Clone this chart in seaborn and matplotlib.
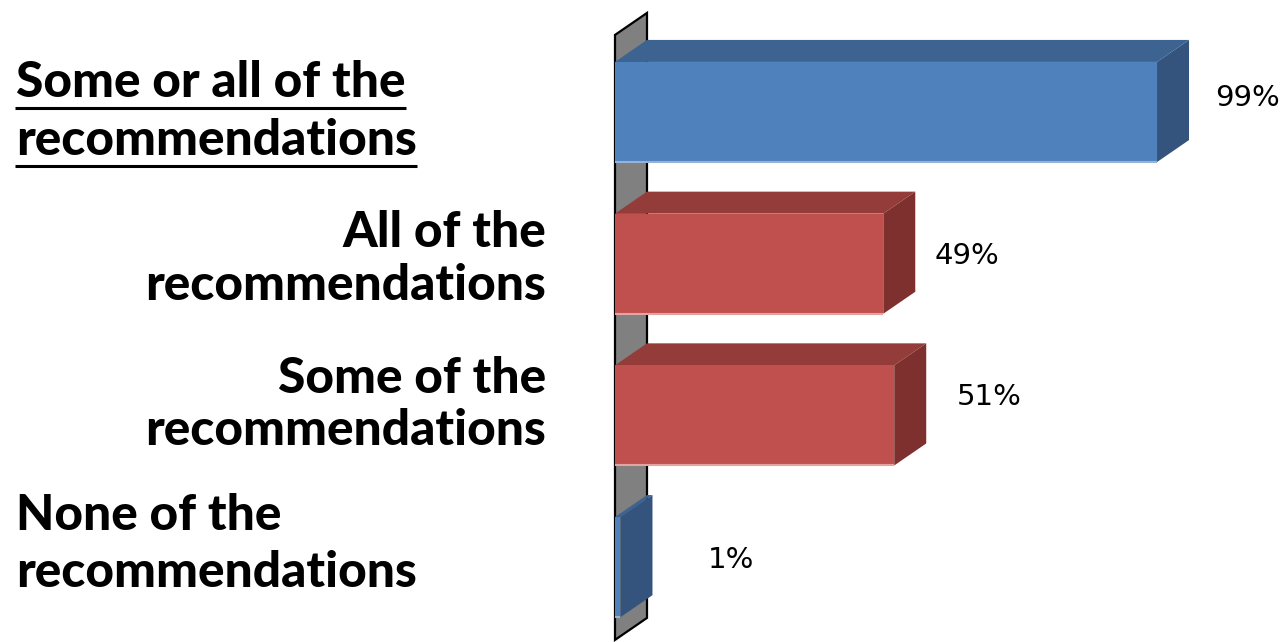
import matplotlib
matplotlib.use("Agg")
import matplotlib.pyplot as plt
import matplotlib.transforms as mtransforms
from matplotlib.patches import Polygon
from matplotlib.lines import Line2D
import pandas as pd
import seaborn as sns

# ---- data -------------------------------------------------------------
categories = [
    "Some or all of the\nrecommendations",
    "All of the\nrecommendations",
    "Some of the\nrecommendations",
    "None of the\nrecommendations",
]
percentages = [99, 49, 51, 1]
groups = ["total", "split", "split", "total"]

# ---- style ------------------------------------------------------------
FRONT = {"total": "#4F81BD", "split": "#C0504D"}
TOP = {"total": "#3D6390", "split": "#943C3A"}
SIDE = {"total": "#34547E", "split": "#7D302E"}
EDGE = {"total": "#95B3D7", "split": "#E3A3A1"}

W, H, DPI = 1280, 642, 100
PX_PER_UNIT = 5.475      # horizontal pixels per percent
PX_PER_CAT = 151.7       # vertical pixels per category slot
X0_PX = 615              # pixel column of the value axis origin
FIRST_CENTER_PX = 112    # pixel row of the first bar centre
XMAX = 120
Y_BOTTOM = 3.45

DX = 32 / PX_PER_UNIT    # 3-D depth, horizontal (data units)
DY = 22 / PX_PER_CAT     # 3-D depth, vertical (category units)

# category label layout: alignment, baseline offsets of each line, underline
label_align = ["left", "right", "right", "left"]
label_offsets = [(-0.099, 0.283), (-0.110, 0.239), (-0.148, 0.195), (-0.245, 0.131)]
label_underline = [True, False, False, False]
LEFT_X_PX, RIGHT_X_PX = 16, 546
LABEL_WEIGHT = 900

# value label offsets (data units from the bar end / category centre)
value_offsets = [(10.6, -0.089), (9.45, -0.051), (11.47, -0.121), (16.0, -0.047)]

sns.set_theme(style="white")
plt.rcParams["font.family"] = ["DejaVu Sans"]

fig = plt.figure(figsize=(W / DPI, H / DPI), dpi=DPI)
top_px = FIRST_CENTER_PX - 0.5 * PX_PER_CAT
bottom_px = FIRST_CENTER_PX + Y_BOTTOM * PX_PER_CAT
ax = fig.add_axes([X0_PX / W, 1 - bottom_px / H,
                   XMAX * PX_PER_UNIT / W, (bottom_px - top_px) / H])

df = pd.DataFrame({"category": categories, "pct": percentages, "group": groups})
sns.barplot(data=df, x="pct", y="category", hue="category",
            palette=[FRONT[g] for g in groups], orient="h", width=0.66,
            saturation=1, legend=False, ax=ax, zorder=3)
ax.set_xlim(0, XMAX)
ax.set_ylim(Y_BOTTOM, -0.5)
ax.set_axis_off()

# grey side wall behind the bars
wall_top, wall_bot = -0.508, 3.48
ax.add_patch(Polygon([(0, wall_top), (DX, wall_top - DY), (DX, wall_bot - DY), (0, wall_bot)],
                     closed=True, facecolor="#808080", edgecolor="black",
                     linewidth=1.6, zorder=0.5, clip_on=False))

# top and side faces for every bar
for bar in ax.patches:
    if not hasattr(bar, "get_width") or bar.get_width() <= 0:
        continue
    w, y, h = bar.get_width(), bar.get_y(), bar.get_height()
    idx = int(round(y + h / 2))
    if idx < 0 or idx >= len(groups):
        continue
    g = groups[idx]
    bar.set_edgecolor("none")
    ax.add_patch(Polygon([(0, y), (DX, y - DY), (w + DX, y - DY), (w, y)],
                         closed=True, facecolor=TOP[g], edgecolor="none", zorder=2))
    ax.add_patch(Polygon([(w, y), (w + DX, y - DY), (w + DX, y + h - DY), (w, y + h)],
                         closed=True, facecolor=SIDE[g], edgecolor="none", zorder=2))
    ax.plot([0, w], [y + h, y + h], color=EDGE[g], lw=1.5, zorder=3.5,
            solid_capstyle="butt")

# value labels
for i, v in enumerate(percentages):
    ox, oy = value_offsets[i]
    ax.text(v + ox, i + oy, f"{v}%", ha="left", va="center",
            fontsize=21, color="black", family=["DejaVu Sans"], clip_on=False)

# category labels, sized so the long word spans about 400 px
fig.canvas.draw()
renderer = fig.canvas.get_renderer()
probe = fig.text(0, 0, "recommendations", fontsize=30, fontweight=LABEL_WEIGHT, family=["Lato"])
pw = probe.get_window_extent(renderer).width
probe.remove()
label_size = 30 * 400 / pw

blend = mtransforms.blended_transform_factory(fig.transFigure, ax.transData)
for i, cat in enumerate(categories):
    ha = label_align[i]
    x = (LEFT_X_PX if ha == "left" else RIGHT_X_PX) / W
    for line, off in zip(cat.split("\n"), label_offsets[i]):
        t = fig.text(x, i + off, line, transform=blend, ha=ha, va="baseline",
                     fontsize=label_size, fontweight=LABEL_WEIGHT, family=["Lato"],
                     color="black")
        if label_underline[i]:
            fig.canvas.draw()
            bb = t.get_window_extent(renderer)
            base_y = ax.transData.transform((0, i + off))[1]
            uy = (base_y - 11) / H
            fig.add_artist(Line2D([bb.x0 / W - 1 / W, bb.x1 / W], [uy, uy],
                                  transform=fig.transFigure, color="black",
                                  lw=2.2, solid_capstyle="butt"))

fig.savefig("out.png", dpi=DPI, facecolor="white")
